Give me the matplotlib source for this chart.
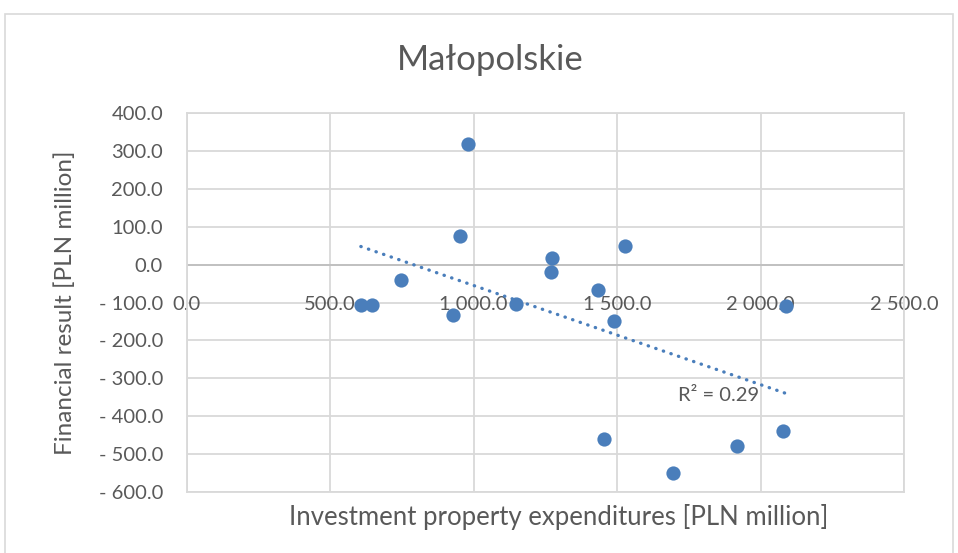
import numpy as np
import matplotlib.pyplot as plt
from matplotlib.patches import Rectangle

# investment property expenditures vs financial result, PLN million
invest = [607, 645, 747, 982, 951, 928, 1148, 1274, 1271, 1527, 1434, 1491,
          2088, 1454, 1694, 1919, 2078]
result = [-107, -107, -40, 318, 75, -134, -103, 17, -19, 48, -68, -150,
          -110, -460, -550, -479, -439]

x_ticks = [0, 500, 1000, 1500, 2000, 2500]
y_ticks = [400, 300, 200, 100, 0, -100, -200, -300, -400, -500, -600]

blue = '#4a7ebb'
grey_txt = '#595959'
grid_c = '#d9d9d9'

plt.rcParams['font.family'] = ['Lato', 'DejaVu Sans']

def fmt(v):
    s = '{:,.1f}'.format(abs(v)).replace(',', ' ')
    return ('- ' + s) if v < 0 else s

fig = plt.figure(figsize=(9.58, 5.53), dpi=100)
fig.patches.append(Rectangle((5/958, -0.01), 948/958, 1 - 14/553 + 0.01,
                             transform=fig.transFigure, fill=False,
                             edgecolor='#d9d9d9', linewidth=1.2))
ax = fig.add_axes([186.7/958, 61.3/553, 717.3/958, 378.4/553])

ax.set_xlim(0, 2500)
ax.set_ylim(-600, 400)
ax.set_xticks(x_ticks)
ax.set_yticks(y_ticks)
ax.grid(True, color=grid_c, linewidth=1.3)
ax.set_axisbelow(True)
for s in ax.spines.values():
    s.set_color(grid_c)
    s.set_linewidth(1.3)
ax.axhline(0, color='#bfbfbf', linewidth=1.3, zorder=1)
ax.tick_params(length=0)
ax.set_xticklabels([])
ax.set_yticklabels([fmt(v) for v in y_ticks], color=grey_txt, fontsize=14.5)
ax.tick_params(axis='y', pad=17)

for v in x_ticks:
    ax.annotate(fmt(v), xy=(v, 0), xytext=(0, -29), textcoords='offset points',
                ha='center', va='center', color=grey_txt, fontsize=14.5,
                zorder=2, annotation_clip=False)

ax.scatter(invest, result, s=105, color=blue, zorder=3, linewidths=0)

# linear trendline
k, b = np.polyfit(invest, result, 1)
xs = np.array([min(invest), max(invest)])
ax.plot(xs, k * xs + b, color=blue, linewidth=2.4, linestyle=(0, (0.1, 2.3)),
        dash_capstyle='round', zorder=3)
ax.text(1854, -345, 'R² = 0.29', ha='center', va='center', color=grey_txt,
        fontsize=14.5, zorder=4)

ax.set_xlabel('Investment property expenditures [PLN million]', color=grey_txt,
              fontsize=18.5, labelpad=5, x=0.519)
ax.set_ylabel('Financial result [PLN million]', color=grey_txt, fontsize=17.5,
              labelpad=16)
fig.text(490/958, 1 - 60/553, 'Małopolskie', ha='center', va='center',
         color=grey_txt, fontsize=25)

fig.savefig('out.png', dpi=100)
